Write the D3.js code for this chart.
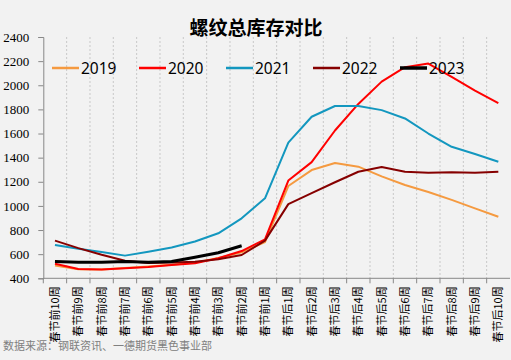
<!DOCTYPE html>
<html>
<head>
<meta charset="utf-8">
<script src="https://cdn.jsdelivr.net/npm/d3@7"></script>
<style>
  body { margin: 0; background: #f2f2f2; }
  svg { display: block; }
</style>
</head>
<body>
<svg id="chart" width="511" height="360"></svg>
<script>
// categories: weeks around spring festival
var weeks = ["春节前10周","春节前9周","春节前8周","春节前7周","春节前6周","春节前5周","春节前4周","春节前3周","春节前2周","春节前1周",
             "春节后1周","春节后2周","春节后3周","春节后4周","春节后5周","春节后6周","春节后7周","春节后8周","春节后9周","春节后10周"];
var yTicks = [400, 600, 800, 1000, 1200, 1400, 1600, 1800, 2000, 2200, 2400];

var s2019 = [505, 475, 472, 485, 498, 512, 530, 568, 615, 700, 1165, 1297, 1355, 1325, 1245, 1173, 1115, 1050, 980, 910];
var s2020 = [520, 477, 472, 483, 494, 510, 524, 566, 626, 723, 1210, 1363, 1625, 1845, 2030, 2150, 2180, 2070, 1955, 1852];
var s2021 = [676, 645, 618, 588, 620, 655, 705, 773, 897, 1063, 1525, 1739, 1828, 1828, 1794, 1725, 1600, 1490, 1430, 1366];
var s2022 = [712, 650, 595, 545, 527, 530, 537, 557, 593, 712, 1015, 1106, 1196, 1283, 1322, 1283, 1275, 1280, 1275, 1283];
var s2023 = [540, 533, 533, 540, 533, 540, 574, 612, 670];

var seriesNames = ["2019", "2020", "2021", "2022", "2023"];
var seriesData = [s2019, s2020, s2021, s2022, s2023];
var colors = ["#f59a40", "#ff0000", "#1397bf", "#860000", "#000000"];
var widths = [2, 2, 2, 2, 3];

var svg = d3.select("#chart");
var plotL = 43.3, plotR = 510, plotT = 37, plotB = 278.3;

var x = d3.scaleBand().domain(weeks).range([plotL, plotR]);
var y = d3.scaleLinear().domain([400, 2400]).range([plotB, plotT]);

// vertical dashed grid at category boundaries
svg.append("g").selectAll("line")
  .data(weeks.slice(1))
  .enter().append("line")
  .attr("x1", function(d){ return x(d); })
  .attr("x2", function(d){ return x(d); })
  .attr("y1", plotT).attr("y2", plotB)
  .attr("stroke", "#c8c8c8")
  .attr("stroke-dasharray", "2,2")
  .attr("stroke-width", 1);

// y axis
var yAxis = svg.append("g")
  .attr("transform", "translate(" + plotL + ",0)")
  .call(d3.axisLeft(y).tickValues(yTicks).tickFormat(d3.format("d")).tickSize(5).tickPadding(9));
yAxis.select(".domain").attr("stroke", "#888");
yAxis.selectAll(".tick line").attr("stroke", "#888");
yAxis.selectAll("text")
  .attr("font-family", "'Liberation Serif', 'Times New Roman', serif")
  .attr("font-size", 13).attr("fill", "#000");

// x axis
var xAxis = svg.append("g")
  .attr("transform", "translate(0," + plotB + ")");
xAxis.append("line")
  .attr("x1", plotL).attr("x2", plotR).attr("y1", 0).attr("y2", 0)
  .attr("stroke", "#888");
xAxis.selectAll("line.tk")
  .data(weeks)
  .enter().append("line").attr("class", "tk")
  .attr("x1", function(d){ return x(d); })
  .attr("x2", function(d){ return x(d); })
  .attr("y1", 0).attr("y2", 5)
  .attr("stroke", "#888");
xAxis.selectAll("text")
  .data(weeks)
  .enter().append("text")
  .attr("transform", function(d){ return "translate(" + (x(d) + x.bandwidth()/2 + 4) + ",8) rotate(-90)"; })
  .attr("text-anchor", "end")
  .attr("font-family", "'Noto Sans CJK SC', sans-serif")
  .attr("font-size", 11)
  .attr("fill", "#000")
  .text(function(d){ return d; });

// lines
var line = d3.line()
  .x(function(d, i){ return x(weeks[i]) + x.bandwidth()/2; })
  .y(function(d){ return y(d); });

svg.append("g").selectAll("path")
  .data(seriesData)
  .enter().append("path")
  .attr("d", function(d){ return line(d); })
  .attr("fill", "none")
  .attr("stroke", function(d, i){ return colors[i]; })
  .attr("stroke-width", function(d, i){ return widths[i]; })
  .attr("stroke-linejoin", "round");

// title
svg.append("text")
  .attr("x", 256).attr("y", 35)
  .attr("text-anchor", "middle")
  .attr("font-family", "'Noto Sans CJK SC', sans-serif")
  .attr("font-weight", "bold")
  .attr("font-size", 19)
  .text("螺纹总库存对比");

// legend
var lg = svg.append("g").selectAll("g")
  .data(seriesNames)
  .enter().append("g")
  .attr("transform", function(d, i){ return "translate(" + (52 + i * 87) + ",68)"; });
lg.append("line")
  .attr("x1", 0).attr("x2", 27).attr("y1", 0).attr("y2", 0)
  .attr("stroke", function(d, i){ return colors[i]; })
  .attr("stroke-width", function(d, i){ return widths[i] + 0.5; });
lg.append("text")
  .attr("x", 29).attr("y", 5.5)
  .attr("font-family", "'Noto Sans', sans-serif")
  .attr("font-size", 15.5)
  .text(function(d){ return d; });

// source
svg.append("text")
  .attr("x", 3).attr("y", 350)
  .attr("font-family", "'Noto Sans CJK SC', sans-serif")
  .attr("font-size", 11)
  .attr("fill", "#808080")
  .text("数据来源：钢联资讯、一德期货黑色事业部");
</script>
</body>
</html>
